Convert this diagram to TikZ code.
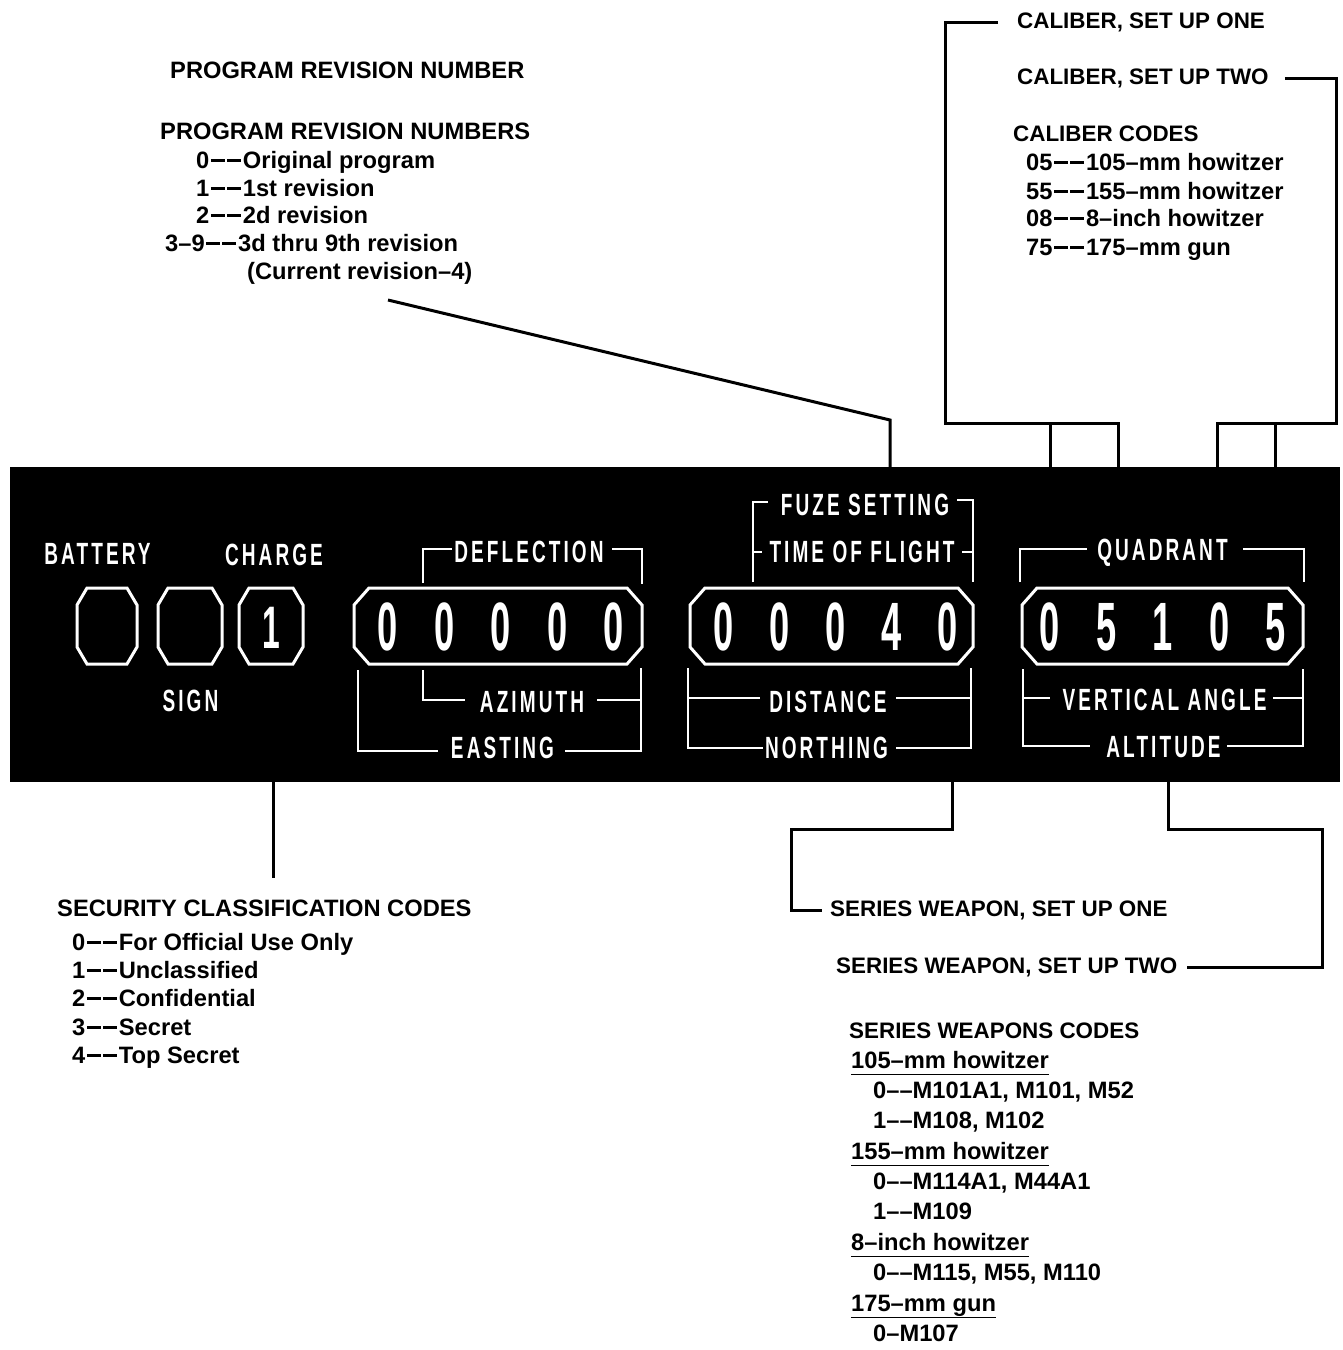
\documentclass[tikz,border=0pt]{standalone}
\usepackage{fontspec}
\setmainfont{Liberation Sans}
\newfontfamily\platefont[FakeStretch=0.62,LetterSpace=10]{Liberation Sans}
\newfontfamily\digitfont[FakeStretch=0.53]{Liberation Sans}
\usetikzlibrary{calc}
\definecolor{plateInk}{HTML}{000000}
\definecolor{plateLine}{HTML}{FFFFFF}
\newcommand\dsh{\kern1.5pt\rule[7pt]{14pt}{2.4pt}\kern2pt\rule[7pt]{14pt}{2.4pt}\kern2pt}

\begin{document}
\begin{tikzpicture}[
    x=1pt, y=-1pt,
    every node/.style={inner sep=0pt},
    txt/.style={anchor=base west, font=\fontsize{23.7}{28}\selectfont\bfseries},
    smalltxt/.style={anchor=base west, font=\fontsize{22.4}{27}\selectfont\bfseries},
    platetxt/.style={anchor=base, text=plateLine, font=\fontsize{30.7}{34}\selectfont\bfseries\platefont},
    digit/.style={text=plateLine, font=\fontsize{68.4}{70}\selectfont\bfseries\digitfont},
    plate/.style={fill=plateInk, draw=none},
    window/.style={draw=plateLine, line width=3pt, line join=miter},
    bracket/.style={draw=plateLine, line width=2pt},
    leader/.style={draw=plateInk, line width=3pt},
    uline/.style={draw=plateInk, line width=1.6pt},
  ]
  \useasboundingbox (0,0) rectangle (1343,1350);

  % Program revision block
  \node[txt] (revhead) at (170,78.5) {PROGRAM REVISION NUMBER};
  \node[txt] (revcodes) at (160,139.5) {PROGRAM REVISION NUMBERS};
  \node[txt] (rev0) at (196,168.5) {0\dsh Original program};
  \node[txt] (rev1) at (196,196.5) {1\dsh 1st revision};
  \node[txt] (rev2) at (196,223.5) {2\dsh 2d revision};
  \node[txt] (rev3) at (165,251.5) {3–9\dsh 3d thru 9th revision};
  \node[txt] (rev4) at (247,279.5) {(Current revision–4)};
  \coordinate (revfoot) at (388,300);

  % Caliber block
  \node[smalltxt] (calone) at (1017,28.5) {CALIBER, SET UP ONE};
  \node[smalltxt] (caltwo) at (1017,84.5) {CALIBER, SET UP TWO};
  \node[smalltxt] (calhead) at (1013,141.5) {CALIBER CODES};
  \node[txt] (cal05) at (1026,170.5) {05\dsh 105–mm howitzer};
  \node[txt] (cal55) at (1026,199.5) {55\dsh 155–mm howitzer};
  \node[txt] (cal08) at (1026,226.5) {08\dsh 8–inch howitzer};
  \node[txt] (cal75) at (1026,255.5) {75\dsh 175–mm gun};

  % The display plate
  \node[plate, minimum width=1330pt, minimum height=315pt] (panel) at (675,624.5) {};

  % Windows
  \foreach \xa/\xb/\cx in {77/137/10, 158/222/10, 239/303/10, 354/642/15, 690/973/15, 1022/1303/15}
    \draw[window] (\xa+\cx,588) -- (\xb-\cx,588) -- (\xb,605) -- (\xb,647) -- (\xb-\cx,664)
      -- (\xa+\cx,664) -- (\xa,647) -- (\xa,605) -- cycle;

  % Digits
  \node[digit, font=\fontsize{60}{62}\selectfont\bfseries\digitfont] (chg) at (271,628) {1};
  \foreach \d [count=\k] in {0,0,0,0,0}
    \node[digit] (defl\k) at ({501+56.5*(\k-3)},627) {\d};
  \foreach \d [count=\k] in {0,0,0,4,0}
    \node[digit] (fuze\k) at ({836+56*(\k-3)},627) {\d};
  \foreach \d [count=\k] in {0,5,1,0,5}
    \node[digit] (quad\k) at ({1163+56.5*(\k-3)},627) {\d};

  % Plate labels
  \node[platetxt] (battery) at (97.5,564) {BATTERY};
  \node[platetxt] (charge) at (274,565) {CHARGE};
  \node[platetxt] (sign) at (190.5,711) {SIGN};
  \node[platetxt] (deflection) at (529,562) {DEFLECTION};
  \node[platetxt] (azimuth) at (532,712) {AZIMUTH};
  \node[platetxt] (easting) at (502.5,758) {EASTING};
  \node[platetxt] (fuzeset) at (865,515) {FUZE SETTING};
  \node[platetxt] (flight) at (862,562) {TIME OF FLIGHT};
  \node[platetxt] (distance) at (828,712) {DISTANCE};
  \node[platetxt] (northing) at (826.5,758) {NORTHING};
  \node[platetxt] (quadrant) at (1162.5,560) {QUADRANT};
  \node[platetxt] (vangle) at (1164.5,710) {VERTICAL ANGLE};
  \node[platetxt] (altitude) at (1163.5,757) {ALTITUDE};

  % Brackets on the plate
  \draw[bracket] (423,583) -- (423,549) -- (452,549);
  \draw[bracket] (612,549) -- (642,549) -- (642,584);
  \draw[bracket] (423,670) -- (423,700) -- (465,700);
  \draw[bracket] (597,700) -- (641,700);
  \draw[bracket] (641,668) -- (641,751) -- (565,751);
  \draw[bracket] (358,670) -- (358,751) -- (438,751);
  \draw[bracket] (753,582) -- (753,502) -- (768,502);
  \draw[bracket] (957,500) -- (973,500) -- (973,582);
  \draw[bracket] (753,552) -- (762,552);
  \draw[bracket] (962,552) -- (973,552);
  \draw[bracket] (688,668) -- (688,748) -- (763,748);
  \draw[bracket] (688,698) -- (760,698);
  \draw[bracket] (896,698) -- (971,698);
  \draw[bracket] (896,748) -- (971,748) -- (971,668);
  \draw[bracket] (1020,582) -- (1020,549) -- (1087,549);
  \draw[bracket] (1243,549) -- (1304,549) -- (1304,582);
  \draw[bracket] (1023,669) -- (1023,746) -- (1090,746);
  \draw[bracket] (1023,698) -- (1050,698);
  \draw[bracket] (1273,698) -- (1303,698);
  \draw[bracket] (1227,746) -- (1303,746) -- (1303,669);

  % Security block
  \node[txt] (sechead) at (57,916.5) {SECURITY CLASSIFICATION CODES};
  \node[txt] (sec0) at (72,950.5) {0\dsh For Official Use Only};
  \node[txt] (sec1) at (72,978.5) {1\dsh Unclassified};
  \node[txt] (sec2) at (72,1006.5) {2\dsh Confidential};
  \node[txt] (sec3) at (72,1035.5) {3\dsh Secret};
  \node[txt] (sec4) at (72,1063.5) {4\dsh Top Secret};

  % Series weapon block
  \node[smalltxt] (serone) at (830,916.5) {SERIES WEAPON, SET UP ONE};
  \node[smalltxt] (sertwo) at (836,973.5) {SERIES WEAPON, SET UP TWO};
  \node[smalltxt] (serhead) at (849,1038.5) {SERIES WEAPONS CODES};
  \node[txt] (ser105) at (851,1068.5) {105–mm howitzer};
  \node[txt] (ser105a) at (873,1098.5) {0––M101A1, M101, M52};
  \node[txt] (ser105b) at (873,1128.5) {1––M108, M102};
  \node[txt] (ser155) at (851,1159.5) {155–mm howitzer};
  \node[txt] (ser155a) at (873,1189.5) {0––M114A1, M44A1};
  \node[txt] (ser155b) at (873,1219.5) {1––M109};
  \node[txt] (ser8) at (851,1250.5) {8–inch howitzer};
  \node[txt] (ser8a) at (873,1280.5) {0––M115, M55, M110};
  \node[txt] (ser175) at (851,1311.5) {175–mm gun};
  \node[txt] (ser175a) at (873,1341.5) {0–M107};
  \foreach \n in {ser105,ser155,ser8,ser175}
    \draw[uline] ([yshift=-6pt]\n.base west) -- ([yshift=-6pt]\n.base east);

  % Leaders
  \draw[leader] (revfoot) -- (890,420) -- (panel.north -| 890,0);
  \draw[leader] ([xshift=-19pt]calone.west) -| (945,423) -- (1118,423) -- (panel.north -| 1118,0);
  \draw[leader] (1050,423) -- (panel.north -| 1050,0);
  \draw[leader] ([xshift=16pt]caltwo.east) -| (1336,423) -- (1217,423) -- (panel.north -| 1217,0);
  \draw[leader] (1275,423) -- (panel.north -| 1275,0);
  \draw[leader] (panel.south -| 273,0) -- ++(0,96);
  \draw[leader] (panel.south -| 952,0) |- (791,829) |- ([xshift=-8pt]serone.west);
  \draw[leader] (panel.south -| 1168,0) |- (1322,829) |- ([xshift=10pt]sertwo.east);
\end{tikzpicture}
\end{document}
